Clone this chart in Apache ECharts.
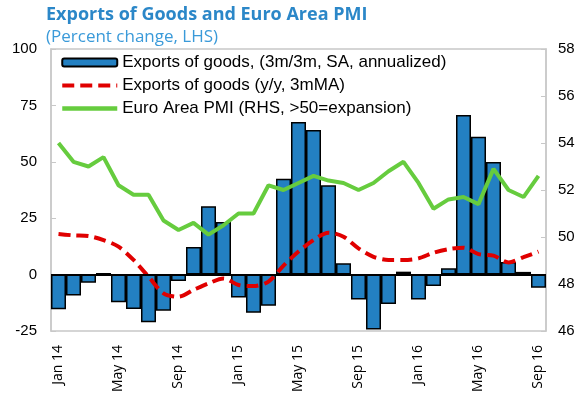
<!DOCTYPE html>
<html>
<head>
    <meta charset="utf-8">
    <title>Exports of Goods and Euro Area PMI</title>
    <script src="https://cdn.jsdelivr.net/npm/echarts@6/dist/echarts.min.js"></script>
    <style>
        body { margin: 0; background: #fff; }
    </style>
</head>
<body>
    <div id="main" style="width: 586px; height: 400px;"></div>

    <script>
        // 월별 카테고리 (Jan 14 ~ Sep 16)
        var monthNames = ['Jan', 'Feb', 'Mar', 'Apr', 'May', 'Jun', 'Jul', 'Aug', 'Sep', 'Oct', 'Nov', 'Dec'];
        var months = [];
        for (var y = 14; y <= 16; y++) {
            for (var m = 0; m < 12; m++) {
                if (y === 16 && m > 8) break;
                months.push(monthNames[m] + ' ' + y);
            }
        }

        // 3m/3m, SA, annualized
        var exports3m = [-15.4, -9.3, -3.6, 0.7, -12.3, -15.2, -21.1, -16.0, -2.8, 12.2, 30.3, 23.3,
                         -10.1, -16.9, -13.8, 42.5, 67.6, 64.1, 39.6, 5.0, -11.0, -24.3, -13.0, 1.3,
                         -11.0, -5.1, 2.8, 70.7, 61.1, 49.9, 5.6, 1.2, -5.8];

        // y/y, 3mMA
        var exportsYoY = [18.0, 17.4, 17.1, 15.3, 12.4, 6.5, -0.9, -8.3, -9.8, -6.8, -3.9, -1.7,
                          -4.6, -5.1, -3.1, 4.0, 10.2, 15.3, 18.6, 16.8, 11.6, 7.9, 6.5, 6.5,
                          7.2, 9.7, 11.3, 11.9, 9.1, 8.4, 5.4, 7.7, 10.2];

        // Euro Area PMI (RHS)
        var pmi = [54.0, 53.2, 53.0, 53.4, 52.2, 51.8, 51.8, 50.7, 50.3, 50.6, 50.1, 50.5,
                   51.0, 51.0, 52.2, 52.0, 52.3, 52.6, 52.4, 52.3, 52.0, 52.3, 52.8, 53.2,
                   52.3, 51.2, 51.6, 51.7, 51.4, 52.9, 52.0, 51.7, 52.6];

        var seriesNames = [
            'Exports of goods, (3m/3m, SA, annualized)',
            'Exports of goods (y/y, 3mMA)',
            'Euro Area PMI (RHS, >50=expansion)'
        ];

        var chartDom = document.getElementById('main');
        var myChart = echarts.init(chartDom);

        var frameColor = '#c8c8c8';
        var numFont = '"Liberation Sans", Arial, sans-serif';

        var option = {
            animation: false,
            title: {
                text: 'Exports of Goods and Euro Area PMI',
                subtext: '(Percent change, LHS)',
                left: 41,
                top: 1,
                itemGap: 5,
                textStyle: {
                    fontFamily: '"Open Sans", sans-serif',
                    fontWeight: 'bold',
                    fontSize: 18,
                    color: '#2b87c8'
                },
                subtextStyle: {
                    fontFamily: '"Open Sans", sans-serif',
                    fontSize: 17,
                    color: '#3a9ad9'
                }
            },
            legend: {
                orient: 'vertical',
                left: 55,
                top: 49,
                itemWidth: 55,
                itemHeight: 8,
                itemGap: 6,
                textStyle: {
                    fontFamily: numFont,
                    fontSize: 17,
                    color: '#000'
                },
                data: [
                    { name: seriesNames[0] },
                    { name: seriesNames[1], itemStyle: { opacity: 0 }, lineStyle: { width: 4 } },
                    { name: seriesNames[2], itemStyle: { opacity: 0 }, lineStyle: { width: 4.5 } }
                ]
            },
            grid: {
                left: 51,
                right: 40,
                top: 49,
                bottom: 69,
                show: true,
                borderColor: frameColor,
                borderWidth: 1.5
            },
            xAxis: {
                type: 'category',
                data: months,
                boundaryGap: true,
                axisLine: { show: false },
                axisTick: { show: false },
                axisLabel: {
                    interval: 3,
                    rotate: 90,
                    margin: 14,
                    fontFamily: '"Open Sans", sans-serif',
                    fontSize: 14,
                    color: '#000'
                }
            },
            yAxis: [
                {
                    type: 'value',
                    min: -25,
                    max: 100,
                    interval: 25,
                    splitLine: { show: false },
                    axisLine: { show: true, lineStyle: { color: frameColor, width: 1.5 } },
                    axisTick: { show: true, inside: true, length: 5, lineStyle: { color: frameColor } },
                    axisLabel: { margin: 14, fontFamily: numFont, fontSize: 15, color: '#000' }
                },
                {
                    type: 'value',
                    min: 46,
                    max: 58,
                    interval: 2,
                    position: 'right',
                    splitLine: { show: false },
                    axisLine: { show: true, lineStyle: { color: frameColor, width: 1.5 } },
                    axisTick: { show: true, inside: true, length: 5, lineStyle: { color: frameColor } },
                    axisLabel: { margin: 12, fontFamily: numFont, fontSize: 15, color: '#000' }
                }
            ],
            series: [
                {
                    name: seriesNames[0],
                    type: 'bar',
                    yAxisIndex: 0,
                    barCategoryGap: '0%',
                    itemStyle: {
                        color: '#2380c2',
                        borderColor: '#000',
                        borderWidth: 1.5
                    },
                    data: exports3m,
                    markLine: {
                        silent: true,
                        symbol: 'none',
                        label: { show: false },
                        lineStyle: { color: '#000', width: 2, type: 'solid' },
                        data: [{ yAxis: 0 }]
                    }
                },
                {
                    name: seriesNames[1],
                    type: 'line',
                    yAxisIndex: 0,
                    symbol: 'none',
                    smooth: 0.3,
                    lineStyle: { color: '#e00000', width: 4, type: [12, 6] },
                    itemStyle: { color: '#e00000' },
                    data: exportsYoY
                },
                {
                    name: seriesNames[2],
                    type: 'line',
                    yAxisIndex: 1,
                    symbol: 'none',
                    lineStyle: { color: '#66cc3e', width: 4 },
                    itemStyle: { color: '#66cc3e' },
                    data: pmi
                }
            ]
        };

        myChart.setOption(option);
    </script>
</body>
</html>
